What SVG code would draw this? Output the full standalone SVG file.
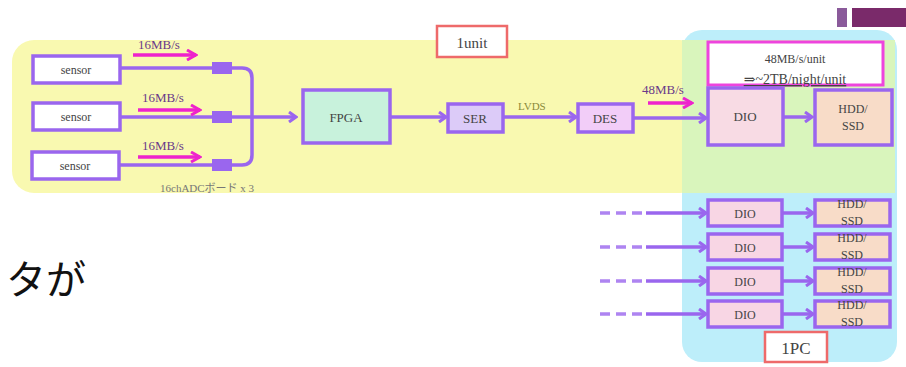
<svg xmlns="http://www.w3.org/2000/svg" width="906" height="367" viewBox="0 0 906 367">
<defs>
<marker id="ah" markerWidth="10" markerHeight="12" refX="8" refY="6" orient="auto" markerUnits="userSpaceOnUse">
<polyline points="1,1 8,6 1,11" fill="none" stroke="#9a66ee" stroke-width="3"/>
</marker>
<marker id="mh" markerWidth="12" markerHeight="12" refX="10" refY="6" orient="auto" markerUnits="userSpaceOnUse">
<polyline points="1,1 10,6 1,11" fill="none" stroke="#ee22cc" stroke-width="3"/>
</marker>
<style>
.box{stroke:#9a66ee;stroke-width:3.5}
.t{font-family:"Liberation Serif","DejaVu Serif",serif;fill:#444;text-anchor:middle}
.c{fill:none;stroke:#9a66ee;stroke-width:3.5}
.m{fill:none;stroke:#ee22cc;stroke-width:3.5}
.ml{font-family:"Liberation Serif",serif;font-size:13px;fill:#6a3a8a}
</style>
</defs>
<rect width="906" height="367" fill="#fff"/>
<rect x="837" y="8" width="10" height="19" fill="#8a5a9a"/>
<rect x="852" y="8" width="54" height="19" fill="#7a2a6a"/>
<rect x="12" y="40" width="690" height="153" rx="22" fill="#f9f9b0"/>
<rect x="682" y="30" width="215" height="332" rx="20" fill="#bdeefa"/>
<rect x="682" y="40" width="213" height="153" fill="#d9f5bc"/>
<g id="unit"><rect x="437" y="26" width="70" height="31" fill="#fff" stroke="#ee6a6a" stroke-width="2.5"/><text class="t" x="472" y="48" font-size="15" fill="#333">1unit</text></g>
<g id="pc"><rect x="765" y="332" width="62" height="30" fill="#fff" stroke="#ee6a6a" stroke-width="2.5"/><text class="t" x="796" y="354" font-size="17">1PC</text></g>
<g id="connectors">
<path class="c" d="M120,68 H242 Q252,68 252,78 V155 Q252,165 242,165 H118"/>
<path class="c" d="M120,117 H296" marker-end="url(#ah)"/>
<rect x="212" y="62" width="20" height="12" fill="#9a66ee"/>
<rect x="212" y="111" width="20" height="12" fill="#9a66ee"/>
<rect x="212" y="159" width="20" height="12" fill="#9a66ee"/>
<path class="c" d="M390,117 H446" marker-end="url(#ah)"/>
<path class="c" d="M503,117 H576" marker-end="url(#ah)"/>
<path class="c" d="M633,118 H706" marker-end="url(#ah)"/>
<path class="c" d="M783,117 H812" marker-end="url(#ah)"/>
<path class="c" d="M782,213 H813" marker-end="url(#ah)"/>
<path class="c" d="M782,247 H813" marker-end="url(#ah)"/>
<path class="c" d="M782,281 H813" marker-end="url(#ah)"/>
<path class="c" d="M782,314 H813" marker-end="url(#ah)"/>
<g stroke-dasharray="10,6" opacity="0.8">
<path class="c" d="M600,213 H646"/><path class="c" d="M600,247 H646"/><path class="c" d="M600,281 H646"/><path class="c" d="M600,314 H646"/>
</g>
<path class="c" d="M646,213 H706" marker-end="url(#ah)"/>
<path class="c" d="M646,247 H706" marker-end="url(#ah)"/>
<path class="c" d="M646,281 H706" marker-end="url(#ah)"/>
<path class="c" d="M646,314 H706" marker-end="url(#ah)"/>
<path class="m" d="M133,55 H196" marker-end="url(#mh)"/>
<path class="m" d="M138,110 H200" marker-end="url(#mh)"/>
<path class="m" d="M138,157 H200" marker-end="url(#mh)"/>
<path class="m" d="M648,103 H692" marker-end="url(#mh)"/>
<text class="ml" x="138" y="49">16MB/s</text>
<text class="ml" x="142" y="102">16MB/s</text>
<text class="ml" x="142" y="150">16MB/s</text>
<text class="ml" x="642" y="94" fill="#666">48MB/s</text>
<text x="518" y="110" font-family="Liberation Serif,serif" font-size="11" fill="#8a8a3a">LVDS</text>
<text x="160" y="192" font-family="Liberation Serif,'Noto Sans CJK JP',serif" font-size="11" fill="#777">16chADCボード x 3</text>
</g>
<g id="sensor1"><rect class="box" x="33" y="56" width="87" height="27" fill="#fff"/><text class="t" x="76" y="74" font-size="12" fill="#555">sensor</text></g>
<g id="sensor2"><rect class="box" x="33" y="103" width="87" height="27" fill="#fff"/><text class="t" x="76" y="121" font-size="12" fill="#555">sensor</text></g>
<g id="sensor3"><rect class="box" x="32" y="152" width="87" height="27" fill="#fff"/><text class="t" x="75" y="170" font-size="12" fill="#555">sensor</text></g>
<g id="fpga"><rect class="box" x="303" y="90" width="87" height="53" fill="#c8f2dc"/><text class="t" x="346" y="122" font-size="13">FPGA</text></g>
<g id="ser"><rect class="box" x="448" y="104" width="55" height="28" fill="#dccbf8"/><text class="t" x="475" y="123" font-size="13">SER</text></g>
<g id="des"><rect class="box" x="578" y="104" width="55" height="28" fill="#f2cdf8"/><text class="t" x="605" y="123" font-size="13">DES</text></g>
<g id="rate"><rect x="708" y="42" width="175" height="43" fill="#fff" stroke="#ee44dd" stroke-width="3"/><text class="t" x="795" y="63" font-size="12" fill="#555">48MB/s/unit</text><text class="t" x="795" y="84" font-size="14" fill="#555" text-decoration="underline">⇒~2TB/night/unit</text></g>
<g id="dio0"><rect class="box" x="708" y="88" width="75" height="57" fill="#f8dbe4"/><text class="t" x="745" y="121" font-size="13">DIO</text></g>
<g id="hdd0"><rect class="box" x="815" y="90" width="77" height="55" fill="#f8dcc8"/><text class="t" x="853" y="113" font-size="12">HDD/</text><text class="t" x="853" y="130" font-size="12">SSD</text></g>
<g id="dio1"><rect class="box" x="708" y="200" width="74" height="26" fill="#f8d6e4"/><text class="t" x="745" y="218" font-size="12">DIO</text></g>
<g id="dio2"><rect class="box" x="708" y="234" width="74" height="26" fill="#f8d6e4"/><text class="t" x="745" y="252" font-size="12">DIO</text></g>
<g id="dio3"><rect class="box" x="708" y="268" width="74" height="26" fill="#f8d6e4"/><text class="t" x="745" y="286" font-size="12">DIO</text></g>
<g id="dio4"><rect class="box" x="708" y="301" width="74" height="26" fill="#f8d6e4"/><text class="t" x="745" y="319" font-size="12">DIO</text></g>
<g id="hdd1"><rect class="box" x="815" y="200" width="75" height="26" fill="#f8dcc8"/><text class="t" x="852" y="208" font-size="12">HDD/</text><text class="t" x="852" y="225" font-size="12">SSD</text></g>
<g id="hdd2"><rect class="box" x="815" y="234" width="75" height="26" fill="#f8dcc8"/><text class="t" x="852" y="242" font-size="12">HDD/</text><text class="t" x="852" y="259" font-size="12">SSD</text></g>
<g id="hdd3"><rect class="box" x="815" y="268" width="75" height="26" fill="#f8dcc8"/><text class="t" x="852" y="276" font-size="12">HDD/</text><text class="t" x="852" y="293" font-size="12">SSD</text></g>
<g id="hdd4"><rect class="box" x="815" y="301" width="75" height="26" fill="#f8dcc8"/><text class="t" x="852" y="309" font-size="12">HDD/</text><text class="t" x="852" y="326" font-size="12">SSD</text></g>
<text x="6" y="294" font-family="'Noto Sans CJK JP',sans-serif" font-size="40" fill="#111">タが</text>
</svg>
